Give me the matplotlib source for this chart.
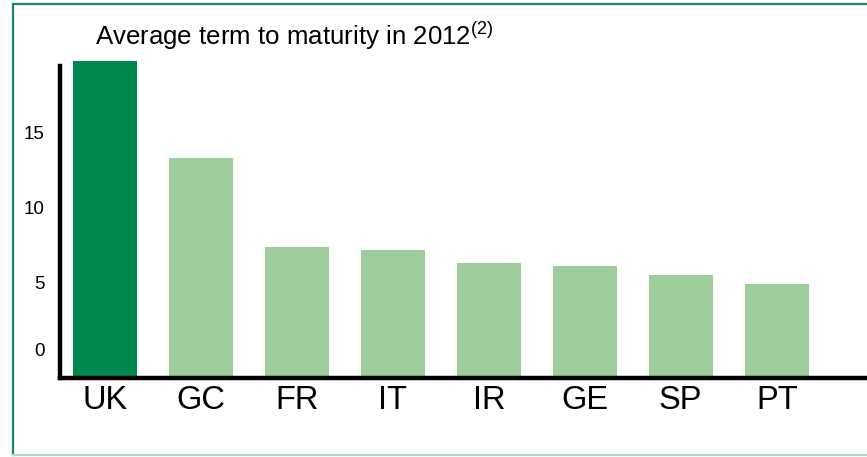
import matplotlib
matplotlib.use("Agg")
import matplotlib.pyplot as plt
import matplotlib.transforms as mtransforms
from matplotlib.lines import Line2D

plt.rcParams["font.family"] = ["Liberation Sans", "DejaVu Sans"]
plt.rcParams["mathtext.fontset"] = "custom"
plt.rcParams["mathtext.rm"] = "Liberation Sans"

# data
countries = ["UK", "GC", "FR", "IT", "IR", "GE", "SP", "PT"]
avg_term = [19.8, 13.3, 7.4, 7.2, 6.3, 6.1, 5.5, 4.9]
yticks = [0, 5, 10, 15]

DARK = "#00884f"
LIGHT = "#9ccd9a"
YMIN = -1.33

fig = plt.figure(figsize=(8.67, 4.57), dpi=100)
ax = fig.add_axes([0.069, 0.173, 0.931, 0.683 + 0.0112])

xs = list(range(len(countries)))
colors = [DARK] + [LIGHT] * (len(countries) - 1)
ax.bar(xs, [v - YMIN for v in avg_term], bottom=YMIN, width=0.667,
       color=colors, edgecolor="none", zorder=2)

ax.set_xlim(-0.469, 7.94)
ax.set_ylim(YMIN, 19.8)

for s in ("top", "right"):
    ax.spines[s].set_visible(False)
for s in ("left", "bottom"):
    ax.spines[s].set_linewidth(3.2)
    ax.spines[s].set_color("black")
ax.spines["left"].set_bounds(YMIN, 19.47)

ax.set_xticks(xs)
ax.set_xticklabels(countries, fontsize=23.5)
ax.set_yticks(yticks)
ax.set_yticklabels([str(t) for t in yticks], fontsize=13.5)
ax.tick_params(axis="x", length=0, pad=5)
ax.tick_params(axis="y", length=0, pad=11)

# the "0" label sits a bit higher than the scale in the original
lab0 = ax.get_yticklabels()[0]
lab0.set_transform(lab0.get_transform() +
                   mtransforms.ScaledTranslation(0, 8 / 100, fig.dpi_scale_trans))

fig.text(0.1096, 0.9015, r"Average term to maturity in 2012$^{\mathrm{(2)}}$",
         fontsize=18.6, va="baseline", ha="left")

# frame around the slide panel
fig.add_artist(Line2D([13 / 867, 13 / 867], [1 - 4 / 457, 1 - 455 / 457],
                      transform=fig.transFigure, color="#1b8a5a", lw=1.6))
fig.add_artist(Line2D([13 / 867, 1.0], [1 - 4 / 457, 1 - 4 / 457],
                      transform=fig.transFigure, color="#1b8a5a", lw=1.6))
fig.add_artist(Line2D([13 / 867, 1.0], [1 - 455 / 457, 1 - 455 / 457],
                      transform=fig.transFigure, color="#a5dcc5", lw=1.6))

fig.savefig("out.png", dpi=100)
